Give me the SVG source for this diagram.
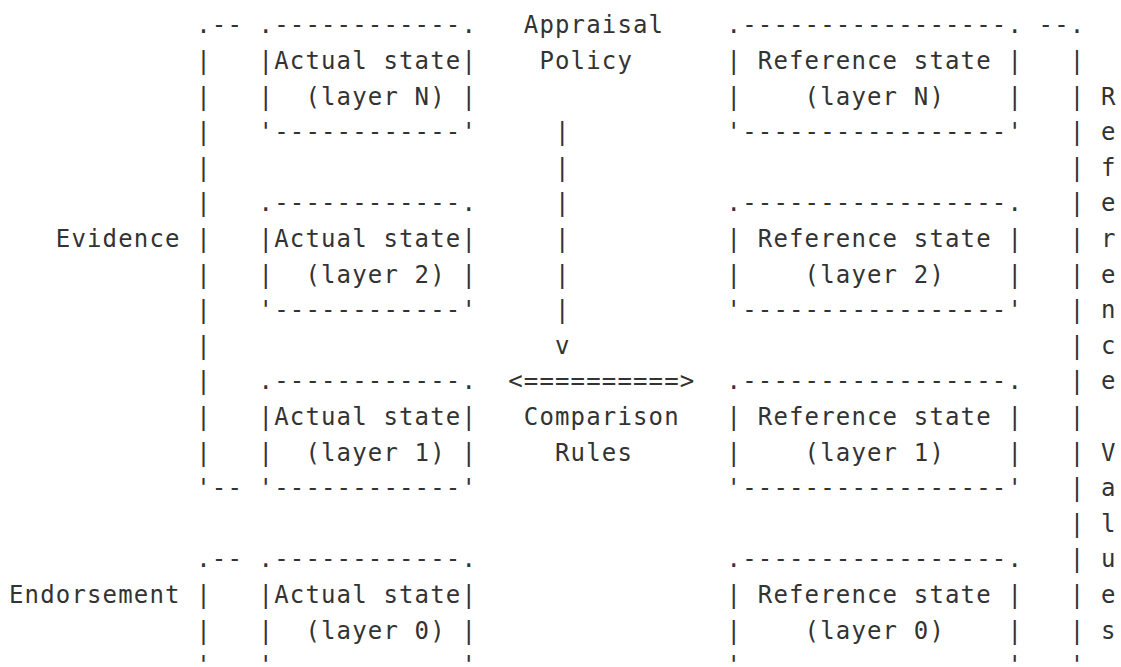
<svg xmlns="http://www.w3.org/2000/svg" width="1121" height="667" viewBox="0 0 1121 667">
<style>
.t{font-family:"DejaVu Sans Mono","Liberation Mono",monospace;font-size:24px;letter-spacing:1.15px;fill:#333}
</style>
<rect width="1121" height="667" fill="#fff"/>
<g id="evidence" class="t">
<text x="55.8" y="247">Evidence</text>
<text x="196.2" y="33.4">.--</text>
<text><tspan x="196.2" y="69">|</tspan><tspan x="196.2" y="104.6">|</tspan><tspan x="196.2" y="140.2">|</tspan><tspan x="196.2" y="175.8">|</tspan><tspan x="196.2" y="211.4">|</tspan><tspan x="196.2" y="247">|</tspan><tspan x="196.2" y="282.6">|</tspan><tspan x="196.2" y="318.2">|</tspan><tspan x="196.2" y="353.8">|</tspan><tspan x="196.2" y="389.4">|</tspan><tspan x="196.2" y="425">|</tspan><tspan x="196.2" y="460.6">|</tspan></text>
<text x="196.2" y="496.2">'--</text>
</g>
<g id="endorsement" class="t">
<text x="9" y="603">Endorsement</text>
<text x="196.2" y="567.4">.--</text>
<text><tspan x="196.2" y="603">|</tspan><tspan x="196.2" y="638.6">|</tspan><tspan x="196.2" y="673">'</tspan></text>
</g>
<g id="actual-n" class="t">
<text x="258.6" y="33.4">.------------.</text>
<text x="258.6" y="69">|Actual state|</text>
<text y="104.6"><tspan x="258.6">|</tspan><tspan x="305.4">(layer N)</tspan><tspan x="461.4">|</tspan></text>
<text x="258.6" y="140.2">'------------'</text>
</g>
<g id="actual-2" class="t">
<text x="258.6" y="211.4">.------------.</text>
<text x="258.6" y="247">|Actual state|</text>
<text y="282.6"><tspan x="258.6">|</tspan><tspan x="305.4">(layer 2)</tspan><tspan x="461.4">|</tspan></text>
<text x="258.6" y="318.2">'------------'</text>
</g>
<g id="actual-1" class="t">
<text x="258.6" y="389.4">.------------.</text>
<text x="258.6" y="425">|Actual state|</text>
<text y="460.6"><tspan x="258.6">|</tspan><tspan x="305.4">(layer 1)</tspan><tspan x="461.4">|</tspan></text>
<text x="258.6" y="496.2">'------------'</text>
</g>
<g id="actual-0" class="t">
<text x="258.6" y="567.4">.------------.</text>
<text x="258.6" y="603">|Actual state|</text>
<text y="638.6"><tspan x="258.6">|</tspan><tspan x="305.4">(layer 0)</tspan><tspan x="461.4">|</tspan></text>
<text y="673"><tspan x="258.6">'</tspan><tspan x="461.4">'</tspan></text>
</g>
<g id="appraisal-policy" class="t">
<text x="523.8" y="33.4">Appraisal</text>
<text x="539.4" y="69">Policy</text>
</g>
<g id="comparison-rules" class="t">
<text x="523.8" y="425">Comparison</text>
<text x="555" y="460.6">Rules</text>
</g>
<g id="reference-n" class="t">
<text x="726.6" y="33.4">.-----------------.</text>
<text y="69"><tspan x="726.6">|</tspan><tspan x="757.8">Reference state</tspan><tspan x="1007.4">|</tspan></text>
<text y="104.6"><tspan x="726.6">|</tspan><tspan x="804.6">(layer N)</tspan><tspan x="1007.4">|</tspan></text>
<text x="726.6" y="140.2">'-----------------'</text>
</g>
<g id="reference-2" class="t">
<text x="726.6" y="211.4">.-----------------.</text>
<text y="247"><tspan x="726.6">|</tspan><tspan x="757.8">Reference state</tspan><tspan x="1007.4">|</tspan></text>
<text y="282.6"><tspan x="726.6">|</tspan><tspan x="804.6">(layer 2)</tspan><tspan x="1007.4">|</tspan></text>
<text x="726.6" y="318.2">'-----------------'</text>
</g>
<g id="reference-1" class="t">
<text x="726.6" y="389.4">.-----------------.</text>
<text y="425"><tspan x="726.6">|</tspan><tspan x="757.8">Reference state</tspan><tspan x="1007.4">|</tspan></text>
<text y="460.6"><tspan x="726.6">|</tspan><tspan x="804.6">(layer 1)</tspan><tspan x="1007.4">|</tspan></text>
<text x="726.6" y="496.2">'-----------------'</text>
</g>
<g id="reference-0" class="t">
<text x="726.6" y="567.4">.-----------------.</text>
<text y="603"><tspan x="726.6">|</tspan><tspan x="757.8">Reference state</tspan><tspan x="1007.4">|</tspan></text>
<text y="638.6"><tspan x="726.6">|</tspan><tspan x="804.6">(layer 0)</tspan><tspan x="1007.4">|</tspan></text>
<text y="673"><tspan x="726.6">'</tspan><tspan x="1007.4">'</tspan></text>
</g>
<g id="reference-values" class="t">
<text x="1038.6" y="33.4">--.</text>
<text><tspan x="1069.8" y="69">|</tspan><tspan x="1069.8" y="104.6">|</tspan><tspan x="1069.8" y="140.2">|</tspan><tspan x="1069.8" y="175.8">|</tspan><tspan x="1069.8" y="211.4">|</tspan><tspan x="1069.8" y="247">|</tspan><tspan x="1069.8" y="282.6">|</tspan><tspan x="1069.8" y="318.2">|</tspan><tspan x="1069.8" y="353.8">|</tspan><tspan x="1069.8" y="389.4">|</tspan><tspan x="1069.8" y="425">|</tspan><tspan x="1069.8" y="460.6">|</tspan><tspan x="1069.8" y="496.2">|</tspan><tspan x="1069.8" y="531.8">|</tspan><tspan x="1069.8" y="567.4">|</tspan><tspan x="1069.8" y="603">|</tspan><tspan x="1069.8" y="638.6">|</tspan><tspan x="1069.8" y="673">'</tspan></text>
<text><tspan x="1101" y="104.6">R</tspan><tspan x="1101" y="140.2">e</tspan><tspan x="1101" y="175.8">f</tspan><tspan x="1101" y="211.4">e</tspan><tspan x="1101" y="247">r</tspan><tspan x="1101" y="282.6">e</tspan><tspan x="1101" y="318.2">n</tspan><tspan x="1101" y="353.8">c</tspan><tspan x="1101" y="389.4">e</tspan><tspan x="1101" y="460.6">V</tspan><tspan x="1101" y="496.2">a</tspan><tspan x="1101" y="531.8">l</tspan><tspan x="1101" y="567.4">u</tspan><tspan x="1101" y="603">e</tspan><tspan x="1101" y="638.6">s</tspan></text>
</g>
<g id="connectors" class="t">
<text><tspan x="555" y="140.2">|</tspan><tspan x="555" y="175.8">|</tspan><tspan x="555" y="211.4">|</tspan><tspan x="555" y="247">|</tspan><tspan x="555" y="282.6">|</tspan><tspan x="555" y="318.2">|</tspan><tspan x="555" y="353.8">v</tspan></text>
<text x="508.2" y="389.4">&lt;==========&gt;</text>
</g>
</svg>
